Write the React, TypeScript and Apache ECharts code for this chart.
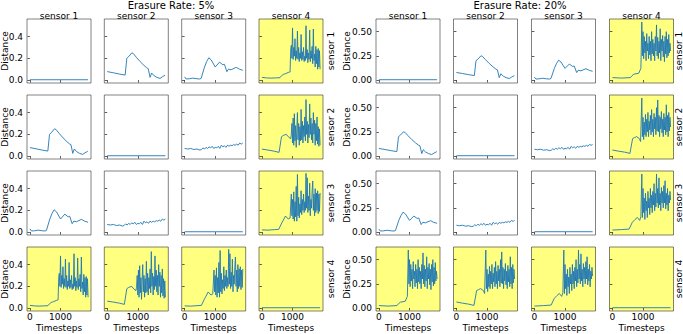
import { useEffect, useRef } from "react";
import * as echarts from "echarts";

// ---------- data ----------
const erasureRates = ["5%", "20%"];
const sensors = ["sensor 1", "sensor 2", "sensor 3", "sensor 4"];
const xTicks = [0, 1000];
const yTicks5 = [0, 0.2, 0.4];
const yTicks20 = [0, 0.25, 0.5];

// distance of a sensor to itself
const selfDistance: [number, number][] = [[0, 0.003], [1900, 0.003]];

// sensor 1 vs sensor 2
const s12: [number, number][] = [
  [0, 0.078], [200, 0.067], [400, 0.055], [586, 0.046], [640, 0.2], [700, 0.215], [800, 0.25],
  [850, 0.245], [950, 0.21], [1075, 0.17], [1200, 0.135], [1290, 0.113], [1340, 0.105],
  [1400, 0.025], [1450, 0.065], [1530, 0.04], [1620, 0.025], [1725, 0.015], [1800, 0.03], [1890, 0.045],
];
// sensor 1 vs sensor 3
const s13: [number, number][] = [
  [0, 0.03], [50, 0.01], [150, 0.012], [270, 0.018], [400, 0.012], [490, 0.01], [540, 0.015],
  [650, 0.12], [720, 0.17], [790, 0.205], [870, 0.185], [1000, 0.12], [1140, 0.165], [1250, 0.14],
  [1300, 0.145], [1380, 0.077], [1430, 0.1], [1520, 0.095], [1685, 0.117], [1790, 0.1], [1900, 0.09],
];
// sensor 2 vs sensor 3
const s23: [number, number][] = [
  [0, 0.07], [100, 0.065], [200, 0.07], [300, 0.06], [400, 0.065], [500, 0.055], [550, 0.06],
  [600, 0.075], [650, 0.065], [700, 0.08], [750, 0.07], [800, 0.085], [850, 0.075], [900, 0.09],
  [950, 0.07], [1000, 0.08], [1050, 0.075], [1100, 0.09], [1150, 0.07], [1200, 0.1], [1250, 0.085],
  [1300, 0.095], [1350, 0.08], [1400, 0.1], [1450, 0.09], [1500, 0.1], [1550, 0.095], [1600, 0.105],
  [1650, 0.1], [1700, 0.11], [1750, 0.1], [1800, 0.12], [1850, 0.11], [1900, 0.12],
];

// pairs with the faulty sensor 4: calm start, then a noisy phase on these timesteps
const noisyTimesteps = [
  960, 980, 1000, 1020, 1040, 1060, 1080, 1100, 1120, 1140, 1160, 1180, 1200, 1220, 1240, 1260,
  1280, 1300, 1320, 1340, 1360, 1380, 1400, 1420, 1440, 1460, 1480, 1500, 1520, 1540, 1560, 1580,
  1600, 1620, 1640, 1660, 1680, 1700, 1720, 1740, 1760, 1780, 1800, 1820, 1840, 1860, 1880, 1900,
];

const s14Start5: [number, number][] = [
  [0, 0.025], [150, 0.02], [300, 0.018], [450, 0.02], [590, 0.022], [640, 0.04], [700, 0.052],
  [780, 0.06], [860, 0.07], [920, 0.075], [940, 0.276],
];
const s14Noisy5 = [
  0.32, 0.2, 0.48, 0.19, 0.3, 0.22, 0.38, 0.18, 0.27, 0.2, 0.45, 0.19, 0.3, 0.17, 0.25, 0.2,
  0.42, 0.18, 0.26, 0.19, 0.3, 0.17, 0.22, 0.18, 0.5, 0.2, 0.28, 0.16, 0.25, 0.19, 0.46, 0.17,
  0.27, 0.2, 0.31, 0.15, 0.47, 0.18, 0.24, 0.12, 0.31, 0.15, 0.28, 0.1, 0.29, 0.12, 0.27, 0.1,
];
const s24Start5: [number, number][] = [
  [0, 0.064], [200, 0.055], [400, 0.045], [560, 0.034], [640, 0.178], [700, 0.19], [800, 0.2],
  [860, 0.178], [940, 0.16],
];
const s24Noisy5 = [
  0.2, 0.3, 0.12, 0.35, 0.1, 0.39, 0.14, 0.28, 0.08, 0.25, 0.4, 0.15, 0.3, 0.1, 0.27, 0.14,
  0.43, 0.15, 0.32, 0.12, 0.28, 0.18, 0.36, 0.14, 0.52, 0.2, 0.32, 0.12, 0.29, 0.17, 0.48, 0.2,
  0.35, 0.15, 0.3, 0.12, 0.4, 0.2, 0.33, 0.1, 0.3, 0.14, 0.36, 0.11, 0.27, 0.09, 0.25, 0.1,
];
const s34Start5: [number, number][] = [
  [0, 0.02], [200, 0.018], [400, 0.022], [550, 0.025], [650, 0.085], [700, 0.11], [770, 0.148],
  [860, 0.12], [920, 0.13],
];
const s34Noisy5 = [
  0.35, 0.15, 0.3, 0.12, 0.37, 0.1, 0.28, 0.14, 0.42, 0.1, 0.53, 0.15, 0.32, 0.13, 0.26, 0.18,
  0.38, 0.16, 0.3, 0.2, 0.35, 0.18, 0.28, 0.2, 0.54, 0.22, 0.5, 0.18, 0.33, 0.2, 0.45, 0.15,
  0.3, 0.22, 0.38, 0.47, 0.2, 0.35, 0.15, 0.4, 0.18, 0.36, 0.2, 0.38, 0.17, 0.35, 0.19, 0.36,
];

const s14Start20: [number, number][] = [
  [0, 0.025], [300, 0.02], [590, 0.025], [640, 0.045], [700, 0.06], [860, 0.07], [930, 0.12],
];
const s14Noisy20 = [
  0.6, 0.25, 0.5, 0.22, 0.45, 0.28, 0.4, 0.2, 0.48, 0.3, 0.38, 0.22, 0.45, 0.26, 0.4, 0.2,
  0.5, 0.27, 0.42, 0.25, 0.38, 0.2, 0.45, 0.3, 0.57, 0.25, 0.44, 0.22, 0.4, 0.28, 0.53, 0.2,
  0.42, 0.3, 0.46, 0.24, 0.4, 0.19, 0.45, 0.27, 0.5, 0.23, 0.42, 0.25, 0.47, 0.28, 0.38, 0.3,
];
const s24Start20: [number, number][] = [
  [0, 0.062], [200, 0.05], [400, 0.04], [573, 0.027], [660, 0.18], [720, 0.19], [790, 0.2],
  [880, 0.18], [920, 0.15],
];
const s24Noisy20 = [
  0.6, 0.2, 0.4, 0.17, 0.35, 0.22, 0.43, 0.2, 0.38, 0.25, 0.45, 0.2, 0.36, 0.27, 0.42, 0.22,
  0.48, 0.25, 0.38, 0.2, 0.44, 0.28, 0.4, 0.22, 0.5, 0.26, 0.58, 0.25, 0.42, 0.2, 0.4, 0.28,
  0.46, 0.24, 0.38, 0.2, 0.44, 0.27, 0.4, 0.22, 0.53, 0.25, 0.42, 0.2, 0.45, 0.26, 0.4, 0.3,
];
const s34Start20: [number, number][] = [
  [0, 0.02], [300, 0.025], [545, 0.03], [650, 0.1], [740, 0.13], [815, 0.15], [890, 0.12], [930, 0.16],
];
const s34Noisy20 = [
  0.6, 0.15, 0.45, 0.2, 0.35, 0.13, 0.4, 0.22, 0.32, 0.15, 0.42, 0.25, 0.35, 0.18, 0.45, 0.25,
  0.38, 0.2, 0.42, 0.28, 0.5, 0.22, 0.4, 0.26, 0.6, 0.3, 0.45, 0.25, 0.56, 0.28, 0.4, 0.22,
  0.46, 0.3, 0.42, 0.25, 0.48, 0.3, 0.53, 0.24, 0.4, 0.28, 0.45, 0.22, 0.38, 0.3, 0.42, 0.33,
];

// ---------- layout / style ----------
const FONT = "DejaVu Sans";
const LINE = "#1f77b4";
const YELLOW = "#ffff80";
const PANEL = 64;
const colLefts = [
  [27, 104.3, 181.7, 259],
  [376, 453.5, 531.5, 609.5],
];
const rowTops = [19, 95, 171, 247];
const xRange = [-95, 1995];
const yRanges = [
  [-0.027, 0.562],
  [-0.031, 0.631],
];
const titleCenters = [171, 520];
const distanceX = [5, 346.5];
const rowLabelX = [330.5, 678.5];

function withNoise(start: [number, number][], noisy: number[]): [number, number][] {
  return start.concat(noisyTimesteps.map((t, i) => [t, noisy[i]] as [number, number]));
}

function pairData(g: number, a: number, b: number): [number, number][] {
  if (a === b) return selfDistance;
  const lo = Math.min(a, b);
  const hi = Math.max(a, b);
  if (hi === 3) {
    const starts = g === 0 ? [s14Start5, s24Start5, s34Start5] : [s14Start20, s24Start20, s34Start20];
    const noisy = g === 0 ? [s14Noisy5, s24Noisy5, s34Noisy5] : [s14Noisy20, s24Noisy20, s34Noisy20];
    return withNoise(starts[lo], noisy[lo]);
  }
  if (lo === 0 && hi === 1) return s12;
  if (lo === 0 && hi === 2) return s13;
  return s23;
}

function buildOption() {
  const grid: any[] = [];
  const xAxis: any[] = [];
  const yAxis: any[] = [];
  const series: any[] = [];
  const graphic: any[] = [];

  const txt = (text: string, x: number, y: number, size: number, rotation = 0) => ({
    type: "text",
    x,
    y,
    rotation,
    silent: true,
    style: {
      text,
      font: `${size}px "${FONT}"`,
      fill: "#000",
      align: "center",
      verticalAlign: "middle",
      textAlign: "center",
      textVerticalAlign: "middle",
    },
  });

  for (let g = 0; g < 2; g++) {
    const yTicks = g === 0 ? yTicks5 : yTicks20;
    const dec = g === 0 ? 1 : 2;
    graphic.push(txt(`Erasure Rate: ${erasureRates[g]}`, titleCenters[g], 5.5, 10));
    for (let r = 0; r < 4; r++) {
      graphic.push(txt("Distance", distanceX[g], rowTops[r] + PANEL / 2, 9, Math.PI / 2));
      graphic.push(txt(sensors[r], rowLabelX[g], rowTops[r] + PANEL / 2, 9, Math.PI / 2));
      for (let c = 0; c < 4; c++) {
        const idx = grid.length;
        const left = colLefts[g][c];
        const top = rowTops[r];
        if (r === 0) graphic.push(txt(sensors[c], left + PANEL / 2, 15.5, 9));
        if (r === 3) graphic.push(txt("Timesteps", left + PANEL / 2, 327.5, 9));
        const yellow = r === 3 || c === 3;
        grid.push({
          left,
          top,
          width: PANEL,
          height: PANEL,
          show: true,
          backgroundColor: yellow ? YELLOW : "#ffffff",
          borderColor: "rgba(0,0,0,0.62)",
          borderWidth: 0.8,
        });
        xAxis.push({
          type: "value",
          gridIndex: idx,
          min: xRange[0],
          max: xRange[1],
          axisLine: { show: false },
          splitLine: { show: false },
          axisTick: { show: true, length: 2.5, customValues: xTicks, lineStyle: { color: "#333", width: 0.8 } },
          axisLabel: {
            show: r === 3,
            customValues: xTicks,
            formatter: (v: number) => String(v),
            fontSize: 9,
            fontFamily: FONT,
            color: "#000",
            margin: 1,
          },
        });
        yAxis.push({
          type: "value",
          gridIndex: idx,
          min: yRanges[g][0],
          max: yRanges[g][1],
          axisLine: { show: false },
          splitLine: { show: false },
          axisTick: { show: true, length: 2.5, customValues: yTicks, lineStyle: { color: "#333", width: 0.8 } },
          axisLabel: {
            show: c === 0,
            customValues: yTicks,
            formatter: (v: number) => v.toFixed(dec),
            fontSize: 9,
            fontFamily: FONT,
            color: "#000",
            margin: 4,
          },
        });
        series.push({
          type: "line",
          xAxisIndex: idx,
          yAxisIndex: idx,
          data: pairData(g, r, c),
          showSymbol: false,
          symbol: "none",
          silent: true,
          lineStyle: { width: 0.9, color: LINE },
        });
      }
    }
  }

  return {
    animation: false,
    backgroundColor: "#ffffff",
    grid,
    xAxis,
    yAxis,
    series,
    graphic,
  };
}

export default function App() {
  const ref = useRef<HTMLDivElement>(null);
  useEffect(() => {
    if (!ref.current) return;
    const chart = echarts.init(ref.current, null, { renderer: "svg" });
    chart.setOption(buildOption() as any);
    return () => chart.dispose();
  }, []);
  return (
    <div
      ref={ref}
      style={{ position: "absolute", left: 0, top: 0, width: 683, height: 334, background: "#fff" }}
    />
  );
}
